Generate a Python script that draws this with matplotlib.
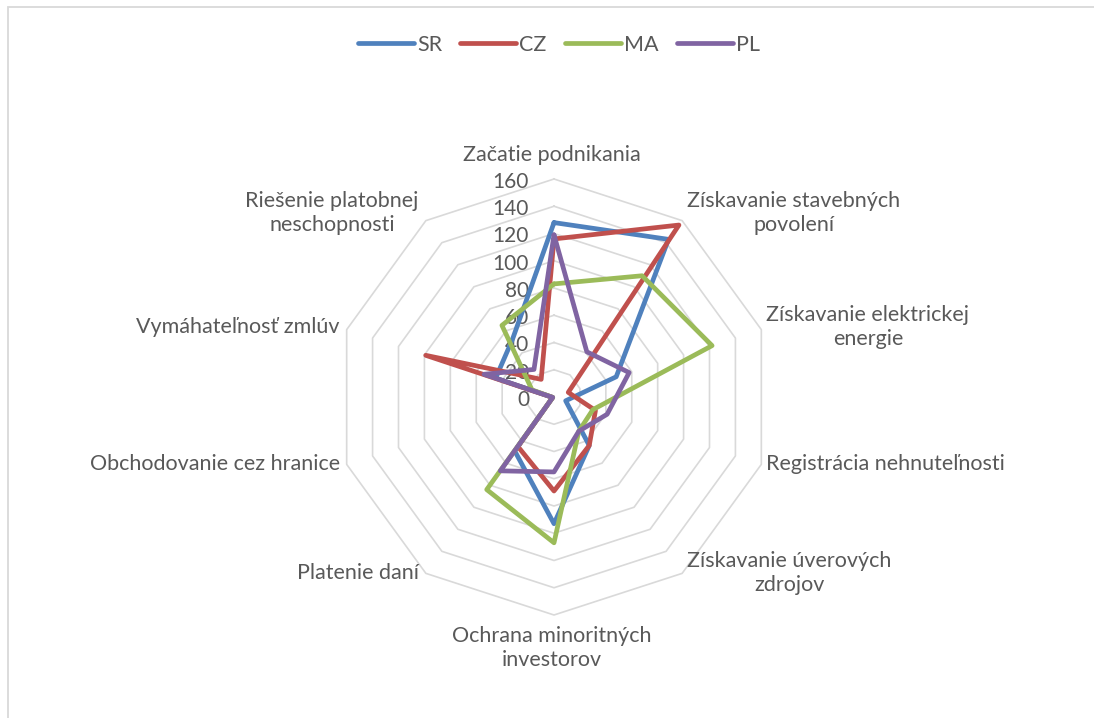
import numpy as np
import matplotlib
matplotlib.use("Agg")
import matplotlib.pyplot as plt
from matplotlib.lines import Line2D
from matplotlib.patches import Rectangle

plt.rcParams['font.family'] = ['Lato', 'DejaVu Sans']

# categories (clockwise from the top)
categories = ["Začatie podnikania", "Získavanie stavebných\npovolení",
              "Získavanie elektrickej\nenergie", "Registrácia nehnuteľnosti",
              "Získavanie úverových\nzdrojov", "Ochrana minoritných\ninvestorov",
              "Platenie daní", "Obchodovanie cez hranice",
              "Vymáhateľnosť zmlúv", "Riešenie platobnej\nneschopnosti"]

series_names = ["SR", "CZ", "MA", "PL"]
sr = [128, 143, 48, 9, 44, 93, 49, 1, 45, 52]
cz = [116, 156, 11, 32, 44, 69, 45, 1, 99, 16]
ma = [83, 110, 122, 30, 31, 107, 84, 1, 17, 65]
pl = [119, 41, 58, 41, 31, 55, 67, 1, 54, 25]
r_ticks = [0, 20, 40, 60, 80, 100, 120, 140, 160]

colors = ["#4F81BD", "#C0504D", "#9BBB59", "#8064A2"]
text_col = "#595959"
grid_col = "#D9D9D9"

fig = plt.figure(figsize=(10.94, 7.18), dpi=100)
fig.patch.set_facecolor("white")

# chart area border (only top/left visible in the crop)
fig.patches.append(Rectangle((8 / 1094, -0.2), 1.5, 0.2 + (718 - 7) / 718,
                             transform=fig.transFigure, fill=False,
                             edgecolor=grid_col, lw=1.3))

W, H = 1094, 718
cx, cy, R = 554, 397, 218
ax = fig.add_axes([(cx - R) / W, (H - cy - R) / H, 2 * R / W, 2 * R / H],
                  projection="polar")
ax.set_theta_offset(np.pi / 2)
ax.set_theta_direction(-1)
ax.set_ylim(0, 160)
ax.set_axis_off()

n = len(categories)
angles = np.linspace(0, 2 * np.pi, n, endpoint=False)
closed = np.append(angles, angles[0])

# polygon grid
for lv in r_ticks[1:]:
    ax.plot(closed, [lv] * (n + 1), color=grid_col, lw=1.2, zorder=1,
            clip_on=False)

# series
for name, vals, c in zip(series_names, [sr, cz, ma, pl], colors):
    ax.plot(closed, list(vals) + [vals[0]], color=c, lw=3.4, zorder=3,
            solid_joinstyle="round", solid_capstyle="round", clip_on=False,
            label=name)

# radial tick labels along the top spoke
for t in r_ticks:
    ax.annotate(str(t), xy=(0, t), xytext=(-18, -2), textcoords="offset points",
                ha="right", va="center", fontsize=15, color=text_col,
                zorder=2, annotation_clip=False)

# category labels
for a, lab in zip(angles, categories):
    sx, sy = np.sin(a), np.cos(a)
    if abs(sx) < 0.1:
        ha = "center"
        dx = -2
        dy = 24 if sy > 0 else -33
    else:
        ha = "left" if sx > 0 else "right"
        dx = 5 if sx > 0 else -7
        dy = max(0.0, 10 * sy)
    ax.annotate(lab, xy=(a, 160), xytext=(dx * 0.72, dy * 0.72),
                textcoords="offset points", ha=ha, va="center",
                multialignment="center", fontsize=15.5, color=text_col,
                linespacing=1.25, annotation_clip=False)

handles = [Line2D([0], [0], color=c, lw=3.4, solid_capstyle="round")
           for c in colors]
fig.legend(handles, series_names, loc="center",
           bbox_to_anchor=(559 / W, 1 - 45 / H),
           ncol=4, frameon=False, fontsize=15.5, labelcolor=text_col,
           handlelength=2.6, handletextpad=0.15, columnspacing=0.85)

fig.savefig("out.png", dpi=100, facecolor="white")
